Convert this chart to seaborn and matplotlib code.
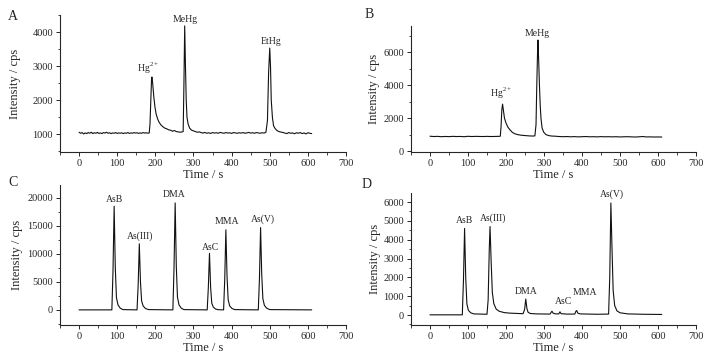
import numpy as np
import pandas as pd
import seaborn as sns
import matplotlib
matplotlib.use("Agg")
import matplotlib.pyplot as plt
from matplotlib.ticker import AutoMinorLocator, MultipleLocator

# ---------------- data ----------------
a_time = [0, 4, 8, 12, 16, 20, 24, 28, 32, 36, 40, 44, 48, 52, 56, 60, 64, 68, 72, 76,
          80, 84, 88, 92, 96, 100, 104, 108, 112, 116, 120, 124, 128, 132, 136, 140, 144,
          148, 152, 156, 160, 164, 168, 172, 176, 180, 184,
          186, 188, 190, 191, 193, 196, 199, 202, 206, 210, 215, 220, 225, 230, 235, 240,
          245, 250, 255, 260, 265, 270, 273, 275, 277, 279, 281, 283, 286, 290, 295, 300,
          305, 310, 315, 320, 325, 330, 335, 340, 345, 350, 355, 360, 365, 370, 375, 380,
          385, 390, 395, 400, 405, 410, 415, 420, 425, 430, 435, 440, 445, 450, 455, 460,
          465, 470, 475, 480, 485, 490, 494, 497, 500, 502, 504, 507, 510, 514, 518, 522,
          527, 532, 538, 545, 550, 555, 560, 565, 570, 575, 580, 585, 590, 595, 600, 605, 610]
a_int = [1060, 1030, 1050, 1010, 1040, 1020, 1050, 1030, 1060, 1020, 1045, 1030, 1055, 1025,
         1040, 1020, 1050, 1035, 1060, 1030, 1045, 1020, 1040, 1030, 1050, 1025, 1040, 1030,
         1045, 1020, 1040, 1030, 1050, 1025, 1040, 1030, 1050, 1035, 1045, 1025, 1040, 1030,
         1050, 1035, 1045, 1030, 1040,
         1300, 2000, 2600, 2680, 2500, 2100, 1800, 1600, 1450, 1350, 1270, 1220, 1180, 1160,
         1130, 1120, 1090, 1110, 1080, 1070, 1060, 1070, 1080, 2500, 4180, 3000, 2000, 1500,
         1300, 1180, 1120, 1100, 1080, 1060, 1070, 1050, 1035, 1055, 1030, 1045, 1025, 1050,
         1035, 1045, 1030, 1055, 1040, 1030, 1050, 1035, 1045, 1025, 1050, 1040, 1030, 1045,
         1035, 1050, 1030, 1040, 1055, 1035, 1045, 1030, 1050, 1040, 1030, 1045, 1035, 1060,
         1400, 2800, 3530, 3000, 2000, 1500, 1250, 1170, 1120, 1090, 1070, 1060, 1040, 1020,
         1050, 1030, 1040, 1015, 1045, 1030, 1050, 1020, 1040, 1010, 1045, 1030, 1020]

b_time = [0, 10, 20, 30, 40, 50, 60, 70, 80, 90, 100, 110, 120, 130, 140, 150, 160, 170,
          180, 185, 187, 189, 191, 193, 196, 200, 205, 210, 216, 222, 230, 240, 250, 260,
          270, 276, 279, 281, 283, 284, 286, 288, 290, 292, 295, 299, 305, 312, 320, 330,
          340, 350, 360, 370, 380, 390, 400, 410, 420, 430, 440, 450, 460, 470, 480, 490,
          500, 510, 520, 530, 540, 550, 560, 570, 580, 590, 600, 610]
b_int = [900, 880, 890, 870, 885, 875, 890, 880, 885, 870, 895, 880, 890, 885, 880, 890,
         880, 885, 890, 900, 1500, 2500, 2850, 2500, 2000, 1700, 1450, 1300, 1150, 1060,
         1000, 960, 940, 920, 910, 920, 1600, 4000, 6000, 6750, 5500, 4000, 2800, 2000, 1400,
         1150, 1000, 940, 910, 900, 880, 870, 880, 865, 875, 860, 870, 880, 865, 870, 860,
         875, 865, 870, 860, 870, 855, 865, 870, 860, 850, 865, 880, 855, 860, 850, 855, 850]

c_time = [0, 86, 89, 92, 95, 98, 102, 108, 115, 152, 155, 158, 161, 164, 168, 174, 182,
          246, 249, 252, 255, 258, 262, 268, 275, 336, 339, 342, 345, 348, 352, 358, 365,
          379, 382, 385, 388, 391, 395, 401, 408, 470, 473, 476, 479, 482, 486, 492, 500, 610]
c_int = [0, 0, 7000, 18500, 7500, 2200, 900, 300, 50, 0, 4500, 11800, 5000, 1600, 700, 250,
         50, 0, 7500, 19100, 7800, 2300, 900, 300, 50, 0, 4000, 10100, 4000, 1200, 500, 150,
         30, 0, 5500, 14300, 6000, 1800, 700, 250, 50, 0, 5500, 14700, 6300, 2000, 800, 300,
         50, 0]

d_time = [0, 85, 88, 91, 94, 97, 101, 107, 115, 150, 153, 156, 158, 161, 164, 168, 174, 182,
          195, 210, 245, 249, 252, 255, 258, 264, 280, 316, 319, 321, 324, 330, 339, 342, 345,
          360, 381, 384, 386, 389, 395, 440, 470, 473, 476, 479, 482, 486, 492, 500, 520, 560,
          610]
d_int = [10, 10, 1800, 4600, 2000, 600, 250, 120, 60, 40, 800, 3500, 4700, 2800, 1200, 600,
         320, 200, 130, 100, 70, 300, 850, 350, 150, 80, 60, 50, 150, 200, 100, 60, 60, 170,
         70, 50, 50, 200, 240, 100, 60, 40, 50, 2000, 5950, 3500, 1300, 500, 220, 120, 60,
         40, 30]

a_labels = ["Hg$^{\\mathregular{2+}}$", "MeHg", "EtHg"]
a_label_x = [182, 279, 503]
a_label_y = [2700, 4250, 3600]

b_labels = ["Hg$^{\\mathregular{2+}}$", "MeHg"]
b_label_x = [187, 282]
b_label_y = [3050, 6850]

c_labels = ["AsB", "As(III)", "DMA", "AsC", "MMA", "As(V)"]
c_label_x = [92, 160, 250, 344, 387, 481]
c_label_y = [18900, 12300, 19800, 10400, 15000, 15400]

d_labels = ["AsB", "As(III)", "DMA", "AsC", "MMA", "As(V)"]
d_label_x = [90, 166, 253, 351, 409, 478]
d_label_y = [4790, 4900, 1010, 480, 960, 6170]

panel_letters = ["A", "B", "C", "D"]

# ---------------- style ----------------
sns.set_theme(style="ticks")
plt.rcParams["font.family"] = ["Liberation Serif", "DejaVu Serif"]
plt.rcParams["mathtext.fontset"] = "custom"
plt.rcParams["mathtext.rm"] = "Liberation Serif"
plt.rcParams["axes.linewidth"] = 0.8

fig = plt.figure(figsize=(7.15, 3.6), dpi=100)
W, H = 715.0, 360.0


def add_axes(left, top, right, bottom):
    return fig.add_axes([left / W, 1 - bottom / H, (right - left) / W, (bottom - top) / H])


axA = add_axes(60, 15, 346, 152)
axB = add_axes(411, 26, 696, 152)
axC = add_axes(60, 185, 346, 325)
axD = add_axes(411, 193, 696, 325)

panels = [
    (axA, a_time, a_int, a_labels, a_label_x, a_label_y, (480, 4500), 1000, -0.136),
    (axB, b_time, b_int, b_labels, b_label_x, b_label_y, (-60, 7600), 2000, -0.109),
    (axC, c_time, c_int, c_labels, c_label_x, c_label_y, (-2700, 22300), 5000, -0.129),
    (axD, d_time, d_int, d_labels, d_label_x, d_label_y, (-530, 6480), 1000, -0.105),
]

for ax, t, y, labs, lx, ly, ylim, ystep, ylab_x in panels:
    df = pd.DataFrame({"t": t, "y": y})
    sns.lineplot(data=df, x="t", y="y", ax=ax, color="#111111", linewidth=0.8,
                 sort=False, estimator=None)
    for s, xx, yy in zip(labs, lx, ly):
        ax.text(xx, yy, s, ha="center", va="bottom", fontsize=7)
    ax.set_xlim(-50, 700)
    ax.set_ylim(*ylim)
    ax.xaxis.set_major_locator(MultipleLocator(100))
    ax.xaxis.set_minor_locator(AutoMinorLocator(2))
    ax.yaxis.set_major_locator(MultipleLocator(ystep))
    ax.yaxis.set_minor_locator(AutoMinorLocator(2))
    ax.tick_params(axis="both", which="major", direction="out", length=3, width=0.7,
                   labelsize=7.5, pad=2)
    ax.tick_params(axis="both", which="minor", direction="out", length=1.8, width=0.6)
    ax.set_xlabel("Time / s", fontsize=9, labelpad=1)
    ax.set_ylabel("Intensity / cps", fontsize=9)
    ax.yaxis.set_label_coords(ylab_x, 0.5)
    sns.despine(ax=ax)

fig.text(8 / W, 1 - 17 / H, "A", fontsize=10, va="center", ha="left")
fig.text(365 / W, 1 - 15 / H, "B", fontsize=10, va="center", ha="left")
fig.text(8 / W, 1 - 183 / H, "C", fontsize=10, va="center", ha="left")
fig.text(362 / W, 1 - 185 / H, "D", fontsize=10, va="center", ha="left")

fig.savefig("out.png", dpi=100)
